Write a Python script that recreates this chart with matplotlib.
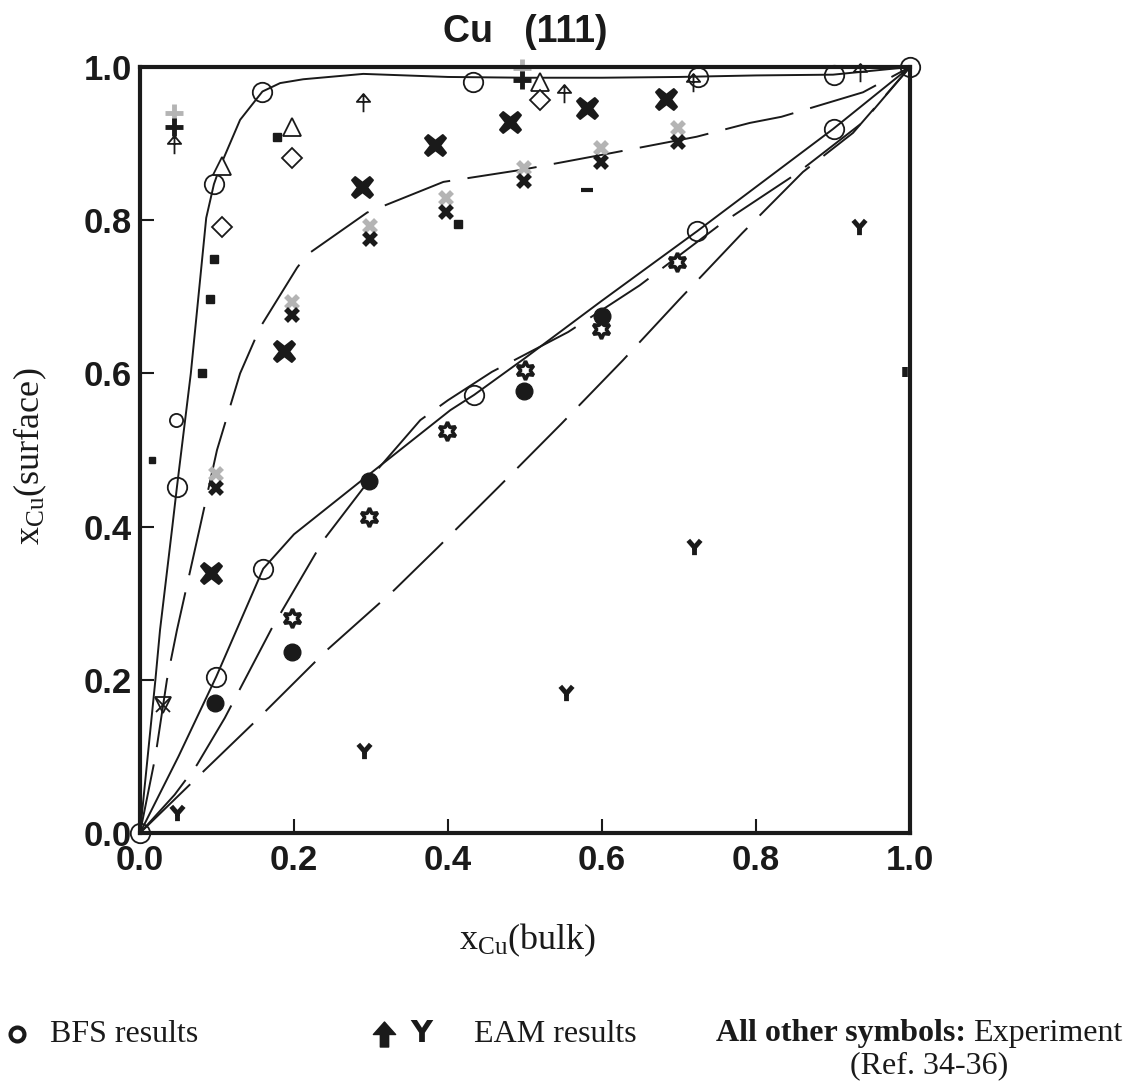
import matplotlib
matplotlib.use('Agg')
import matplotlib.pyplot as plt
from matplotlib.path import Path
from matplotlib.lines import Line2D
import numpy as np

plt.rcParams['mathtext.fontset'] = 'custom'
plt.rcParams['mathtext.rm'] = 'Liberation Serif'
plt.rcParams['mathtext.it'] = 'Liberation Serif:italic'

# ---- data ----
# BFS curves (solid)
bfs_hi_x = [0, 0.01, 0.02, 0.026, 0.042, 0.048, 0.066, 0.086, 0.096, 0.104, 0.13, 0.159, 0.182, 0.212, 0.29, 0.4, 0.5, 0.6, 0.7, 0.8, 0.9, 1.0]
bfs_hi_y = [0, 0.1, 0.2, 0.265, 0.4, 0.452, 0.6, 0.803, 0.847, 0.87, 0.931, 0.968, 0.979, 0.984, 0.991, 0.987, 0.986, 0.986, 0.987, 0.989, 0.99, 1.0]
bfs_lo_x = [0, 0.05, 0.099, 0.16, 0.2, 0.3, 0.403, 0.434, 0.5, 0.6, 0.724, 0.9, 1.0]
bfs_lo_y = [0, 0.1, 0.204, 0.345, 0.39, 0.47, 0.552, 0.572, 0.62, 0.695, 0.786, 0.919, 1.0]
# dashed curves
dash_hi_x = [0, 0.02, 0.035, 0.048, 0.078, 0.1, 0.13, 0.156, 0.204, 0.217, 0.295, 0.394, 0.497, 0.614, 0.723, 0.792, 0.833, 0.939, 1.0]
dash_hi_y = [0, 0.1, 0.2, 0.265, 0.4, 0.5, 0.6, 0.66, 0.738, 0.755, 0.81, 0.85, 0.866, 0.888, 0.909, 0.927, 0.935, 0.967, 1.0]
dash_mid_x = [0, 0.045, 0.074, 0.11, 0.171, 0.238, 0.308, 0.364, 0.40, 0.457, 0.556, 0.649, 0.757, 0.853, 0.939, 1.0]
dash_mid_y = [0, 0.05, 0.089, 0.15, 0.267, 0.382, 0.474, 0.539, 0.565, 0.602, 0.654, 0.715, 0.797, 0.861, 0.928, 1.0]
dash_lo_x = [0, 0.084, 0.149, 0.243, 0.33, 0.386, 0.466, 0.547, 0.627, 0.7, 0.782, 0.861, 0.926, 1.0]
dash_lo_y = [0, 0.082, 0.145, 0.239, 0.317, 0.372, 0.452, 0.534, 0.617, 0.696, 0.783, 0.863, 0.914, 1.0]

# BFS points
bfs_x = [0, 0.048, 0.096, 0.159, 0.433, 0.725, 0.901, 1.0, 0.099, 0.16, 0.434, 0.724, 0.901]
bfs_y = [0, 0.452, 0.847, 0.968, 0.980, 0.987, 0.99, 1.0, 0.204, 0.345, 0.572, 0.786, 0.919]

# EAM points
eam_arrow_x = [0.044, 0.29, 0.551, 0.718, 0.935]
eam_arrow_y = [0.899, 0.954, 0.966, 0.98, 0.993]
eam_y_x = [0.048, 0.291, 0.553, 0.72, 0.934]
eam_y_y = [0.026, 0.107, 0.183, 0.373, 0.791]

# experiment
plus_gray_x, plus_gray_y = [0.044, 0.496], [0.94, 0.999]
plus_blk_x, plus_blk_y = [0.044, 0.496], [0.922, 0.983]
tri_x, tri_y = [0.107, 0.198, 0.519], [0.871, 0.922, 0.98]
dia_x, dia_y = [0.107, 0.197, 0.519], [0.791, 0.881, 0.957]
sq_x = [0.081, 0.091, 0.096, 0.178, 0.413]
sq_y = [0.60, 0.697, 0.75, 0.909, 0.795]
xfill_x = [0.092, 0.187, 0.288, 0.383, 0.481, 0.58, 0.683]
xfill_y = [0.339, 0.629, 0.843, 0.898, 0.928, 0.946, 0.958]
xgray_x = [0.099, 0.198, 0.299, 0.398, 0.499, 0.599, 0.699]
xgray_y = [0.469, 0.693, 0.792, 0.829, 0.868, 0.894, 0.92]
xblk_x = [0.099, 0.198, 0.299, 0.398, 0.499, 0.599, 0.699]
xblk_y = [0.45, 0.676, 0.775, 0.811, 0.851, 0.876, 0.902]
star_x = [0.198, 0.297, 0.399, 0.50, 0.599, 0.697]
star_y = [0.281, 0.413, 0.525, 0.604, 0.658, 0.745]
dot_x = [0.097, 0.197, 0.297, 0.499, 0.6]
dot_y = [0.170, 0.236, 0.46, 0.577, 0.675]
smallcirc_x, smallcirc_y = [0.047], [0.539]
tridn_x, tridn_y = [0.03], [0.167]
tiny_sq_x, tiny_sq_y = [0.015], [0.487]
hdash_x, hdash_y = [0.581], [0.839]
vdash_x, vdash_y = [0.994], [0.602]

ticks = [0.0, 0.2, 0.4, 0.6, 0.8, 1.0]
tick_labels = ['0.0', '0.2', '0.4', '0.6', '0.8', '1.0']

# ---- custom markers ----
xsq = Path([(-1, -0.7), (-0.7, -1), (0, -0.45), (0.7, -1), (1, -0.7), (0.45, 0),
            (1, 0.7), (0.7, 1), (0, 0.45), (-0.7, 1), (-1, 0.7), (-0.45, 0), (-1, -0.7)],
           [Path.MOVETO] + [Path.LINETO] * 11 + [Path.CLOSEPOLY])
arrow_open = Path([(-0.55, 0.05), (0, 0.7), (0.55, 0.05), (-0.55, 0.05), (0, 0.7), (0, -0.8)],
                  [Path.MOVETO, Path.LINETO, Path.LINETO, Path.CLOSEPOLY, Path.MOVETO, Path.LINETO])
ymark = Path([(-0.65, 0.75), (0, 0), (0.65, 0.75), (0, 0), (0, -0.8)],
             [Path.MOVETO, Path.LINETO, Path.LINETO, Path.MOVETO, Path.LINETO])
arrow_fill = Path([(-0.8, 0), (0, 0.9), (0.8, 0), (0.3, 0), (0.3, -0.9), (-0.3, -0.9), (-0.3, 0), (-0.8, 0)],
                  [Path.MOVETO] + [Path.LINETO] * 6 + [Path.CLOSEPOLY])

fig = plt.figure(figsize=(11.34, 10.82), dpi=100)
ax = fig.add_axes([140 / 1134, 1 - 833 / 1082, 770 / 1134, 766 / 1082])

k = '#1a1a1a'
dash = (36, 9)
ax.plot(bfs_hi_x, bfs_hi_y, color=k, lw=1.4)
ax.plot(bfs_lo_x, bfs_lo_y, color=k, lw=1.4)
for xx, yy in [(dash_hi_x, dash_hi_y), (dash_mid_x, dash_mid_y), (dash_lo_x, dash_lo_y)]:
    ax.plot(xx, yy, color=k, lw=1.4, dashes=dash)

common = dict(ls='none', clip_on=False)
ax.plot(bfs_x, bfs_y, marker='o', ms=14, mfc='none', mec=k, mew=1.3, **common)
ax.plot(smallcirc_x, smallcirc_y, marker='o', ms=9.5, mfc='white', mec=k, mew=1.3, **common)
ax.plot(eam_arrow_x, eam_arrow_y, marker=arrow_open, ms=14, mfc='none', mec=k, mew=1.3, **common)
ax.plot(eam_y_x, eam_y_y, marker=ymark, ms=11, mfc='none', mec=k, mew=3.5, **common)
ax.plot(plus_gray_x, plus_gray_y, marker='+', ms=13, mec='#b4b4b4', mew=3.5, **common)
ax.plot(plus_blk_x, plus_blk_y, marker='+', ms=13, mec=k, mew=3.5, **common)
ax.plot(tri_x, tri_y, marker='^', ms=13, mfc='white', mec=k, mew=1.3, **common)
ax.plot(dia_x, dia_y, marker='D', ms=10, mfc='white', mec=k, mew=1.3, **common)
ax.plot(sq_x, sq_y, marker='s', ms=6, mfc=k, mec=k, **common)
ax.plot(tiny_sq_x, tiny_sq_y, marker='s', ms=4, mfc=k, mec=k, **common)
ax.plot(xfill_x, xfill_y, marker=xsq, ms=15, mfc=k, mec=k, mew=1.5, **common)
ax.plot(xgray_x, xgray_y, marker='x', ms=9, mec='#b4b4b4', mew=4, **common)
ax.plot(xblk_x, xblk_y, marker='x', ms=9, mec=k, mew=4, **common)
ax.plot(star_x, star_y, marker=(6, 1, 0), ms=13.5, mfc='white', mec=k, mew=2.6, **common)
ax.plot(dot_x, dot_y, marker='o', ms=12, mfc=k, mec=k, **common)
ax.plot(tridn_x, tridn_y, marker='v', ms=12, mfc='none', mec=k, mew=1.3, **common)
ax.plot(tridn_x, tridn_y, marker='x', ms=10, mec=k, mew=1.3, **common)
ax.plot(hdash_x, hdash_y, marker='_', ms=8, mec=k, mew=3, **common)
ax.plot(vdash_x, vdash_y, marker='|', ms=7, mec=k, mew=4, **common)

ax.set_xlim(0, 1)
ax.set_ylim(0, 1)
ax.set_xticks(ticks)
ax.set_xticklabels(tick_labels)
ax.set_yticks(ticks)
ax.set_yticklabels(tick_labels)
for sp in ax.spines.values():
    sp.set_linewidth(3)
    sp.set_color(k)
ax.tick_params(direction='in', length=10, width=1.5, color=k, labelsize=25, pad=6)
ax.tick_params(axis='x', pad=8)
for lab in ax.get_xticklabels() + ax.get_yticklabels():
    lab.set_fontweight('bold')
    lab.set_family('Liberation Sans')
    lab.set_color(k)

ax.set_title('Cu   (111)', fontsize=27, fontweight='bold', family='Liberation Sans', pad=18, color=k)

fig.text(30 / 1134, 1 - 456 / 1082, r'$\mathrm{x_{Cu}(surface)}$', rotation=90, ha='center', va='center', fontsize=26, color=k)
fig.text(528 / 1134, 1 - 940 / 1082, r'$\mathrm{x_{Cu}(bulk)}$', ha='center', va='center', fontsize=26, color=k)

# legend row
row1 = 1 - 1034 / 1082
row2 = 1 - 1066 / 1082
fs = 23
fig.add_artist(Line2D([17 / 1134], [row1], marker='o', ms=10, mfc='none', mec=k, mew=3, ls='none'))
fig.text(50 / 1134, row1, 'BFS results', family='Liberation Serif', fontsize=fs, va='center', color=k)
fig.add_artist(Line2D([384 / 1134], [row1], marker=arrow_fill, ms=18, mfc=k, mec=k, ls='none'))
fig.text(421 / 1134, row1, 'Y', family='DejaVu Sans', fontweight='bold', fontsize=22, va='center', ha='center', color=k)
fig.text(474 / 1134, row1, 'EAM results', family='Liberation Serif', fontsize=fs, va='center', color=k)
t_bold = fig.text(716 / 1134, row1, 'All other symbols:', family='Liberation Serif', fontweight='bold',
                  fontsize=fs, va='center', color=k)
fig.canvas.draw()
bb = t_bold.get_window_extent()
fig.text((bb.x1 + 7) / 1134, row1, 'Experiment', family='Liberation Serif', fontsize=fs, va='center', color=k)
fig.text(929 / 1134, row2, '(Ref. 34-36)', family='Liberation Serif', fontsize=fs, va='center', ha='center', color=k)

fig.savefig('out.png', dpi=100)
